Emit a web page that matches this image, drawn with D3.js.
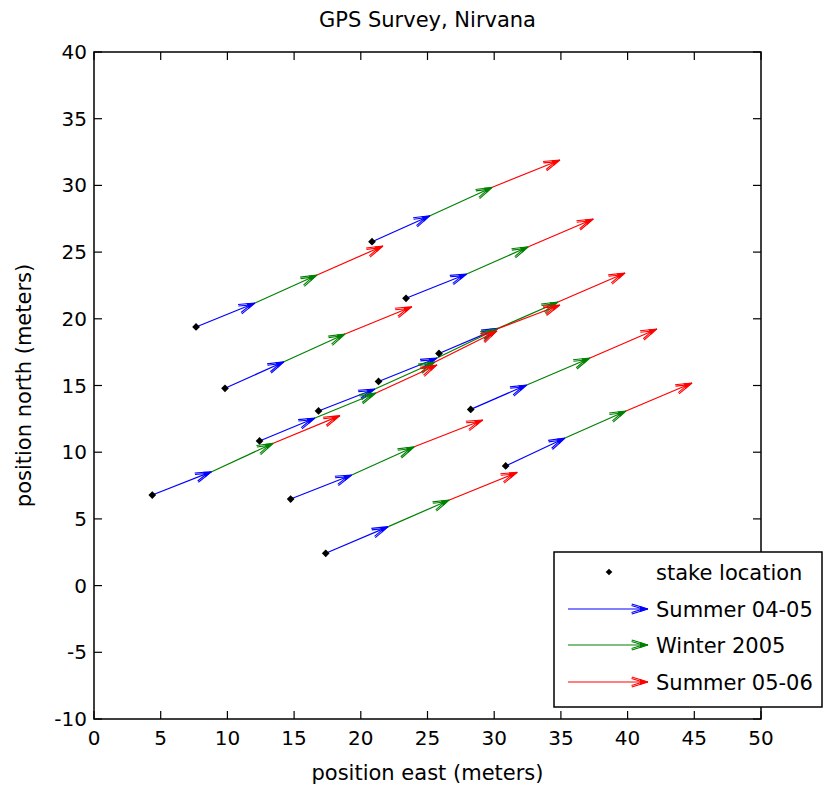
<!DOCTYPE html>
<html>
<head>
<meta charset="utf-8">
<script src="https://cdn.jsdelivr.net/npm/d3@7"></script>
<style>
  body { margin: 0; background: #ffffff; }
  text { font-family: "DejaVu Sans", sans-serif; fill: #000000; }
</style>
</head>
<body>
<div id="chart"></div>
<script>
// stake positions (meters)
var stakeEast  = [7.65, 20.84, 23.39, 9.82, 4.37, 12.41, 16.83, 21.33, 25.86, 14.74, 17.37, 28.24, 30.86];
var stakeNorth = [19.39, 25.78, 21.54, 14.79, 6.79, 10.84, 13.09, 15.30, 17.40, 6.49, 2.42, 13.21, 8.97];

// position at end of Summer 04-05
var eastS0405  = [12.07, 25.19, 27.94, 14.24, 8.82, 16.57, 21.06, 25.71, 30.28, 19.32, 22.06, 32.44, 35.31];
var northS0405 = [21.18, 27.73, 23.36, 16.78, 8.54, 12.56, 14.74, 17.06, 19.28, 8.29, 4.42, 15.04, 11.06];

// position at end of Winter 2005
var eastW2005  = [16.72, 29.86, 32.56, 18.82, 13.44, 21.14, 25.56, 30.21, 34.78, 24.01, 26.64, 37.18, 39.88];
var northW2005 = [23.28, 29.86, 25.40, 18.86, 10.67, 14.44, 16.76, 19.24, 21.26, 10.41, 6.42, 17.06, 13.09];

// position at end of Summer 05-06
var eastS0506  = [21.66, 34.93, 37.43, 23.82, 18.44, 25.71, 30.21, 34.93, 39.81, 29.14, 31.73, 42.20, 44.83];
var northS0506 = [25.46, 31.90, 27.48, 20.90, 12.74, 16.54, 19.09, 21.03, 23.43, 12.41, 8.49, 19.24, 15.19];

var seasonNames = ["Summer 04-05", "Winter 2005", "Summer 05-06"];
var seasonColors = ["#0000ff", "#008000", "#ff0000"];
var xTicks = [0, 5, 10, 15, 20, 25, 30, 35, 40, 45, 50];
var yTicks = [-10, -5, 0, 5, 10, 15, 20, 25, 30, 35, 40];

var width = 825, height = 789;
var margin = { left: 94, right: 64, top: 52, bottom: 70 };

var svg = d3.select("#chart")
  .append("svg")
  .attr("width", width)
  .attr("height", height);

var x = d3.scaleLinear().domain([0, 50]).range([margin.left, width - margin.right]);
var y = d3.scaleLinear().domain([-10, 40]).range([height - margin.bottom, margin.top]);

// build the arrow segments, one group per season
var starts = [[stakeEast, stakeNorth], [eastS0405, northS0405], [eastW2005, northW2005]];
var ends = [[eastS0405, northS0405], [eastW2005, northW2005], [eastS0506, northS0506]];
var segments = [];
seasonNames.forEach(function (name, s) {
  stakeEast.forEach(function (d, i) {
    segments.push({
      season: s,
      x1: starts[s][0][i], y1: starts[s][1][i],
      x2: ends[s][0][i], y2: ends[s][1][i]
    });
  });
});

// draws a matlab-ish arrow (shaft + doubled open barbs + small solid tip)
function drawArrow(g, px1, py1, px2, py2, color) {
  var ang = Math.atan2(py2 - py1, px2 - px1);
  var barb = 17, spread = 0.30;
  g.append("line")
    .attr("x1", px1).attr("y1", py1)
    .attr("x2", px2).attr("y2", py2)
    .attr("stroke", color).attr("stroke-width", 1.2);
  [0, 5].forEach(function (off) {
    var tx = px2 - off * Math.cos(ang), ty = py2 - off * Math.sin(ang);
    [-spread, spread].forEach(function (a) {
      g.append("line")
        .attr("x1", tx).attr("y1", ty)
        .attr("x2", tx - (barb - off) * Math.cos(ang + a))
        .attr("y2", ty - (barb - off) * Math.sin(ang + a))
        .attr("stroke", color).attr("stroke-width", 1.1);
    });
  });
  var hl = 8, hw = 3;
  var bx = px2 - hl * Math.cos(ang), by = py2 - hl * Math.sin(ang);
  g.append("polygon")
    .attr("points", [
      [px2, py2],
      [bx - hw * Math.sin(ang), by + hw * Math.cos(ang)],
      [bx + hw * Math.sin(ang), by - hw * Math.cos(ang)]
    ].map(function (p) { return p.join(","); }).join(" "))
    .attr("fill", color);
}

// axis box
svg.append("rect")
  .attr("x", x(0)).attr("y", y(40))
  .attr("width", x(50) - x(0)).attr("height", y(-10) - y(40))
  .attr("fill", "none").attr("stroke", "#000000").attr("stroke-width", 1.5);

// ticks inward on all four sides
var tickLen = 8;
var tickG = svg.append("g").attr("stroke", "#000000").attr("stroke-width", 1.2);
xTicks.forEach(function (t) {
  tickG.append("line").attr("x1", x(t)).attr("x2", x(t)).attr("y1", y(-10)).attr("y2", y(-10) - tickLen);
  tickG.append("line").attr("x1", x(t)).attr("x2", x(t)).attr("y1", y(40)).attr("y2", y(40) + tickLen);
});
yTicks.forEach(function (t) {
  tickG.append("line").attr("x1", x(0)).attr("x2", x(0) + tickLen).attr("y1", y(t)).attr("y2", y(t));
  tickG.append("line").attr("x1", x(50)).attr("x2", x(50) - tickLen).attr("y1", y(t)).attr("y2", y(t));
});

svg.selectAll(".xlab").data(xTicks).enter().append("text")
  .attr("x", function (d) { return x(d); })
  .attr("y", y(-10) + 26)
  .attr("text-anchor", "middle")
  .style("font-size", "20px")
  .text(function (d) { return d; });

svg.selectAll(".ylab").data(yTicks).enter().append("text")
  .attr("x", x(0) - 7)
  .attr("y", function (d) { return y(d) + 7; })
  .attr("text-anchor", "end")
  .style("font-size", "20px")
  .text(function (d) { return d; });

// arrows
var arrowG = svg.append("g");
segments.forEach(function (d) {
  drawArrow(arrowG, x(d.x1), y(d.y1), x(d.x2), y(d.y2), seasonColors[d.season]);
});

// stake markers on top (square turned 45 deg = even diamond)
var stakeSymbol = d3.symbol().type(d3.symbolSquare).size(30);
svg.selectAll(".stake").data(stakeEast).enter().append("path")
  .attr("d", stakeSymbol)
  .attr("transform", function (d, i) { return "translate(" + x(d) + "," + y(stakeNorth[i]) + ") rotate(45)"; })
  .attr("fill", "#000000");

// title and axis labels
svg.append("text")
  .attr("x", (x(0) + x(50)) / 2).attr("y", 27)
  .attr("text-anchor", "middle")
  .style("font-size", "21px")
  .text("GPS Survey, Nirvana");

svg.append("text")
  .attr("x", (x(0) + x(50)) / 2).attr("y", 780)
  .attr("text-anchor", "middle")
  .style("font-size", "21px")
  .text("position east (meters)");

svg.append("text")
  .attr("transform", "translate(31," + (y(15)) + ") rotate(-90)")
  .attr("text-anchor", "middle")
  .style("font-size", "21px")
  .text("position north (meters)");

// legend
var leg = svg.append("g");
leg.append("rect")
  .attr("x", 554).attr("y", 552).attr("width", 268).attr("height", 155)
  .attr("fill", "#ffffff").attr("stroke", "#000000").attr("stroke-width", 1.5);

var legRows = [572, 609, 645, 682];
leg.append("path")
  .attr("d", d3.symbol().type(d3.symbolSquare).size(22))
  .attr("transform", "translate(609," + legRows[0] + ") rotate(45)")
  .attr("fill", "#000000");
leg.append("text")
  .attr("x", 656).attr("y", legRows[0] + 8)
  .style("font-size", "21px")
  .text("stake location");

seasonNames.forEach(function (name, s) {
  drawArrow(leg, 568, legRows[s + 1], 648, legRows[s + 1], seasonColors[s]);
  leg.append("text")
    .attr("x", 656).attr("y", legRows[s + 1] + 8)
    .style("font-size", "21px")
    .text(name);
});
</script>
</body>
</html>
